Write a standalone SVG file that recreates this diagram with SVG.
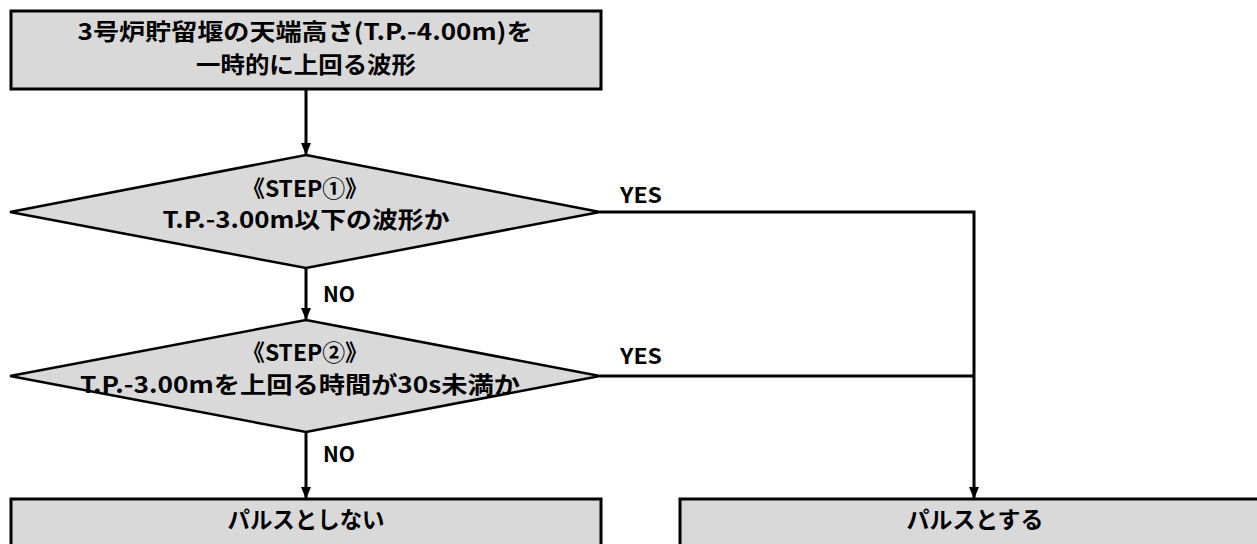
<svg xmlns="http://www.w3.org/2000/svg" width="1257" height="544" viewBox="0 0 1257 544">
<defs>
<marker id="arr" viewBox="0 0 12 10" refX="12" refY="5" markerWidth="12" markerHeight="10" markerUnits="userSpaceOnUse" orient="auto">
<path d="M0,0 L12,5 L0,10 Z" fill="#000"/>
</marker>
<style>
.box{fill:#d9d9d9;stroke:#000;stroke-width:3}
.dia{fill:#d9d9d9;stroke:#000;stroke-width:2.5}
.t{font-family:"Noto Sans CJK JP","Noto Sans",sans-serif;font-weight:bold;font-size:23px;fill:#000;text-anchor:middle}
.lbl{font-family:"Noto Sans CJK JP","Noto Sans",sans-serif;font-weight:bold;font-size:21px;fill:#000}
.ln{fill:none;stroke:#000;stroke-width:3}
</style>
</defs>
<rect width="1257" height="544" fill="#fff"/>
<g id="start">
<rect class="box" x="11" y="11" width="590" height="78"/>
<text class="t" x="305" y="40" textLength="455" lengthAdjust="spacingAndGlyphs">3号炉貯留堰の天端高さ(T.P.-4.00m)を</text>
<text class="t" x="306" y="73" textLength="220" lengthAdjust="spacingAndGlyphs">一時的に上回る波形</text>
</g>
<g id="step1">
<polygon class="dia" points="306,155 600,212 306,268 10,212"/>
<text class="t" x="305" y="197" textLength="126" lengthAdjust="spacingAndGlyphs">《STEP①》</text>
<text class="t" x="306" y="228" textLength="287" lengthAdjust="spacingAndGlyphs">T.P.-3.00m以下の波形か</text>
</g>
<g id="step2">
<polygon class="dia" points="306,320 600,376 306,432 10,376"/>
<text class="t" x="305" y="361" textLength="126" lengthAdjust="spacingAndGlyphs">《STEP②》</text>
<text class="t" x="300" y="393" textLength="440" lengthAdjust="spacingAndGlyphs">T.P.-3.00mを上回る時間が30s未満か</text>
</g>
<g id="nopulse">
<rect class="box" x="11" y="499" width="590" height="60"/>
<text class="t" x="306" y="528" textLength="157" lengthAdjust="spacingAndGlyphs">パルスとしない</text>
</g>
<g id="pulse">
<rect class="box" x="680" y="499" width="600" height="60"/>
<text class="t" x="975" y="528" textLength="137" lengthAdjust="spacingAndGlyphs">パルスとする</text>
</g>
<g id="connectors">
<path class="ln" d="M306,89 V155" marker-end="url(#arr)"/>
<path class="ln" d="M306,268 V320" marker-end="url(#arr)"/>
<path class="ln" d="M306,432 V499" marker-end="url(#arr)"/>
<path class="ln" d="M600,212 H974 V499" marker-end="url(#arr)"/>
<path class="ln" d="M600,376 H974"/>
<text class="lbl" x="620" y="203" textLength="42" lengthAdjust="spacingAndGlyphs">YES</text>
<text class="lbl" x="620" y="364" textLength="42" lengthAdjust="spacingAndGlyphs">YES</text>
<text class="lbl" x="323" y="302" textLength="32" lengthAdjust="spacingAndGlyphs">NO</text>
<text class="lbl" x="323" y="462" textLength="32" lengthAdjust="spacingAndGlyphs">NO</text>
</g>
</svg>
